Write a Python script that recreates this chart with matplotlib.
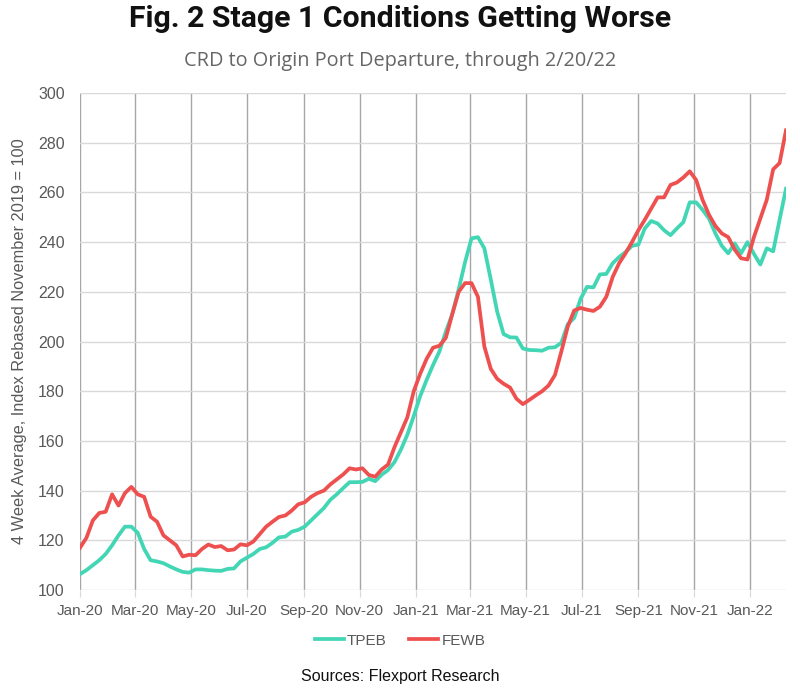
import matplotlib
matplotlib.use("Agg")
import matplotlib.pyplot as plt
import matplotlib.dates as mdates
import numpy as np
import pandas as pd

# ---- data (weekly, 4-week average index, Nov 2019 = 100) ----
start_date = "2020-01-05"
tpeb = [106.4, 108, 110, 112, 114.5, 118, 122, 125.5, 125.5, 123,
        116.5, 112, 111.5, 110.8, 109.5, 108.3, 107.3, 107, 108.3, 108.3,
        108, 107.8, 107.7, 108.5, 108.7, 111.5, 113, 114.5, 116.5, 117.2,
        119, 121.2, 121.5, 123.5, 124.2, 125.5, 128, 130.5, 133,
        136.3, 138.5, 141, 143.4, 143.4, 143.5, 144.8, 143.8, 146.4, 148.3,
        151.5, 156.5, 162.5, 170, 178, 184.5, 190.5, 196,
        204, 211, 221, 232, 241.5, 242, 237.5, 225, 212, 203,
        201.7, 201.6, 197.2, 196.6, 196.5, 196.3, 197.5, 197.7, 199.5,
        207, 209.5, 217.2, 222, 221.8, 227, 227.2, 231.5, 234, 236,
        238.5, 239, 245.5, 248.5, 247.5, 244.8, 242.8, 245.5, 248,
        256, 256, 253, 249.5, 243.5, 238.5, 235.5, 239.5, 235.5, 240,
        235.3, 231, 237.5, 236.3, 249, 261.5]
fewb = [117, 121, 128, 131, 131.5, 138.5, 134, 139, 141.5, 138.5,
        137.5, 129.5, 127.5, 122, 120, 118, 113.5, 114.2, 114, 116.5,
        118.3, 117.3, 117.7, 116, 116.3, 118.4, 118, 119.5, 122.5, 125.5,
        127.5, 129.4, 130, 132, 134.5, 135.3, 137.5, 139, 140,
        142.5, 144.5, 146.5, 149, 148.5, 149, 146.3, 145.6, 148.5, 150.5,
        157.5, 163.5, 169.5, 180, 187, 193, 197.5, 198.3,
        201.5, 211, 220, 223.5, 223.5, 218, 198, 189, 185, 183,
        181.5, 177, 174.8, 176.5, 178.3, 180, 182.3, 186.5, 196,
        206, 212.5, 213.5, 212.8, 212.3, 214, 218, 226, 231.5, 235.5,
        240, 244.8, 249, 253.5, 258, 258, 263, 264, 266,
        268.5, 265, 257, 251, 246.5, 243.5, 242, 237, 233.5, 233,
        242, 249.5, 257, 269.3, 271.8, 285]
series_names = ["TPEB", "FEWB"]
y_ticks = [100, 120, 140, 160, 180, 200, 220, 240, 260, 280, 300]

dates = pd.date_range(start_date, periods=len(tpeb), freq="7D")
tick_dates = [pd.Timestamp(start_date) + pd.DateOffset(months=2 * k) for k in range(13)]

TEAL = "#43d6b5"
RED = "#ee5050"
GRAY_TXT = "#595959"
FONT = ["Liberation Sans", "DejaVu Sans"]
plt.rcParams["font.family"] = FONT

fig = plt.figure(figsize=(8, 6.88), dpi=100)
ax = fig.add_axes([0.1, 0.1424, 0.8825, 0.7224])

ax.plot(dates, tpeb, color=TEAL, lw=2.7, label=series_names[0], solid_joinstyle="round")
ax.plot(dates, fewb, color=RED, lw=2.7, label=series_names[1], solid_joinstyle="round")

ax.set_xlim(dates[0], dates[-1])
ax.set_ylim(100, 300)
ax.set_yticks(y_ticks)
ax.set_xticks(tick_dates)
ax.xaxis.set_major_formatter(mdates.DateFormatter("%b-%y"))

for s in ax.spines.values():
    s.set_visible(False)

ax.grid(axis="y", color="#d9d9d9", lw=1.0)
ax.grid(axis="x", color="#a6a6a6", lw=1.0)
ax.set_axisbelow(True)
ax.tick_params(axis="y", length=0, pad=11, labelsize=11.5, labelcolor=GRAY_TXT)
ax.tick_params(axis="x", length=5, color="#d9d9d9", pad=5, labelsize=11, labelcolor=GRAY_TXT)

ax.set_ylabel("4 Week Average, Index Rebased November 2019 = 100", fontsize=11.8,
              color=GRAY_TXT, labelpad=8)

fig.text(0.5, 0.972, "Fig. 2 Stage 1 Conditions Getting Worse", ha="center", va="center",
         fontsize=21.8, fontweight="bold", family="Roboto", color="#111111")
fig.text(0.5, 0.912, "CRD to Origin Port Departure, through 2/20/22", ha="center", va="center",
         fontsize=14.3, color="#666666", family=["Open Sans", "DejaVu Sans"])

leg = fig.legend(loc="center", bbox_to_anchor=(0.5, 0.069), ncol=2, frameon=False,
                 fontsize=11, handlelength=1.9, columnspacing=1.5, handletextpad=0.2)
for t in leg.get_texts():
    t.set_color(GRAY_TXT)

fig.text(0.5, 0.017, "Sources: Flexport Research", ha="center", va="center",
         fontsize=11.5, color="#111111")

fig.savefig("out.png", dpi=100)
